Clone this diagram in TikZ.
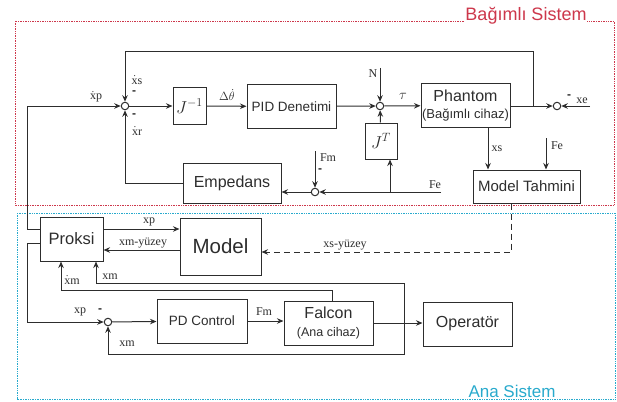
\documentclass[tikz,border=0pt]{standalone}
\usepackage{fontspec}
\setmainfont{Liberation Serif}
\setsansfont{Liberation Sans}
\usetikzlibrary{arrows.meta, calc}
\definecolor{linecol}{RGB}{45,45,45}
\definecolor{slavered}{RGB}{205,55,75}
\definecolor{mastercyan}{RGB}{40,170,205}
\newcommand{\fsz}[1]{\fontsize{#1}{#1}\selectfont}
\newcommand{\dotx}{$\dot{\hbox{x}}$}

\begin{document}
\begin{tikzpicture}[
  x=1pt, y=-1pt,
  every node/.style={inner sep=0pt, text=linecol},
  blk/.style={
    draw=linecol, line width=1pt, align=center,
    font=\sffamily\fsz{#1}
  },
  blk/.default=16,
  sumj/.style={circle, draw=linecol, line width=1pt, minimum size=7.5pt, fill=white},
  sig/.style={font=\fsz{12}},
  minus/.style={font=\sffamily\bfseries\fsz{12}},
  arr/.style={-{Stealth[length=6.5pt, width=5.5pt]}, line width=1pt, draw=linecol},
  frame/.style={line width=0.9pt, dash pattern=on 0.8pt off 0.9pt}
]
  \useasboundingbox (0,0) rectangle (617,401);

  % Sistem cerceveleri
  \draw[frame, slavered] (15,21) rectangle (614,205);
  \draw[frame, mastercyan] (17,213) rectangle (615,399);
  \node[font=\sffamily\fsz{18}, text=slavered, fill=white, anchor=base] (slavelbl) at (526,21) {Bağımlı Sistem};
  \node[font=\sffamily\fsz{17}, text=mastercyan, fill=white, anchor=base] (masterlbl) at (512,397) {Ana Sistem};

  % Bagimli sistem bloklari
  \node[sumj] (sA) at (125,106) {};
  \node[sumj] (sB) at (380,106) {};
  \node[sumj] (sC) at (557,106) {};
  \node[sumj] (sD) at (315,192) {};
  \node[blk=18, minimum width=33pt, minimum height=36pt] (Jinv) at (189.5,106) {$J^{-1}$};
  \node[blk=13.5, minimum width=89pt, minimum height=43pt] (pid) at (291.5,106.5) {PID Denetimi};
  \node[blk, minimum width=89pt, minimum height=43pt] (phantom) at (465.5,105.5) {Phantom\\[1pt]{\fsz{13}(Bağımlı cihaz)}};
  \node[blk=18, minimum width=32pt, minimum height=36pt] (JT) at (381,141) {$J^{T}$};
  \node[blk, minimum width=98pt, minimum height=40pt] (emp) at (232,183) {Empedans};
  \node[blk=15, minimum width=107pt, minimum height=33pt] (mt) at (526.5,186.5) {Model Tahmini};

  % Ana sistem bloklari
  \node[sumj] (sE) at (108,322) {};
  \node[blk=16.5, minimum width=63pt, minimum height=44pt] (proksi) at (71.5,239) {Proksi};
  \node[blk=20.5, minimum width=81pt, minimum height=57pt] (model) at (220.5,246.5) {Model};
  \node[blk=13.5, minimum width=90pt, minimum height=44pt] (pd) at (202,321) {PD Control};
  \node[blk, minimum width=89pt, minimum height=44pt] (falcon) at (328.5,323) {Falcon\\[2pt]{\fsz{12.5}(Ana cihaz)}};
  \node[blk, minimum width=89pt, minimum height=44pt] (oper) at (467.5,324) {Operatör};

  % Serbest uclar
  \coordinate (fb) at (533,106);
  \coordinate (xein) at (590,106);
  \coordinate (nin) at (380,68);
  \coordinate (fein) at (441,192);
  \coordinate (fmin) at (315,151);
  \coordinate (fe2) at (546,138);
  \coordinate (xmb) at (404,323);

  % Bagimli sistem baglantilari
  \draw[arr] (sA) -- (Jinv);
  \draw[arr] (Jinv) -- (pid);
  \draw[arr] (pid) -- (sB);
  \draw[arr] (sB) -- (phantom);
  \draw[arr] (phantom.east |- sC) -- (sC);
  \draw[arr] (fb) -- ++(0,-54) -| (sA);
  \draw[arr] (xein) -- (sC);
  \draw[arr] (nin) -- (sB);
  \draw[arr] (JT) -- (sB);
  \draw[arr] (fein) -- (sD);
  \draw[arr] ([xshift=9pt]JT.south |- fein) -- ([xshift=9pt]JT.south);
  \draw[arr] (fmin) -- (sD);
  \draw[arr] (sD) -- (emp.east |- sD);
  \draw[arr] (emp.west) -| (sA);
  \draw[arr] ([xshift=22.5pt]phantom.south) -- ([xshift=22.5pt]phantom.south |- mt.north);
  \draw[arr] (fe2) -- (fe2 |- mt.north);
  \draw[arr, dash pattern=on 6pt off 4pt] ([xshift=-15.5pt]mt.south) |- ([yshift=-5.5pt]model.east);

  % Ana sistem baglantilari
  \draw[arr] ([yshift=10pt]proksi.west) -- ++(-12,0) |- (sA);
  \draw[arr] ([yshift=-4pt]proksi.west) -- ++(-12,0) |- (sE);
  \draw[arr] ([yshift=10pt]proksi.east) -- ([yshift=10pt]proksi.east -| model.west);
  \draw[arr] ([yshift=-3.5pt]model.west) -- ([yshift=-3.5pt]model.west -| proksi.east);
  \draw[arr] ([xshift=3.5pt]falcon.north) -- ++(0,-10) -| ([xshift=-10.5pt]proksi.south);
  \draw[arr] (xmb) -- ++(0,-40) -| ([xshift=24.5pt]proksi.south);
  \draw[arr] (xmb) -- ++(0,31) -| (sE);
  \draw[arr] (sE) -- (pd);
  \draw[arr] (pd) -- (falcon.west |- pd);
  \draw[arr] (falcon.east |- xmb) -- (oper.west |- xmb);

  % Etiketler
  \node[sig] at (96,97) {\dotx p};
  \node[sig] at (137,80) {\dotx s};
  \node[minus] at (134,93) {-};
  \node[sig] at (137,131) {\dotx r};
  \node[minus] at (134,116) {-};
  \node[sig] at (227,95) {$\Delta\dot{\theta}$};
  \node[sig] at (373,74) {N};
  \node[sig, font=\fsz{14}] at (403,96) {$\tau$};
  \node[sig] at (582,101) {xe};
  \node[minus] at (569,97) {-};
  \node[sig] at (497,149) {xs};
  \node[sig] at (557,146) {Fe};
  \node[sig] at (328,158) {Fm};
  \node[minus] at (320,171) {-};
  \node[sig] at (435,185) {Fe};
  \node[sig] at (345,245) {xs-yüzey};
  \node[sig] at (149,222) {xp};
  \node[sig] at (143,243) {xm-yüzey};
  \node[sig] at (72,280) {\dotx m};
  \node[sig] at (110,277) {xm};
  \node[sig] at (80,312) {xp};
  \node[minus] at (100,311) {-};
  \node[sig] at (127,344) {xm};
  \node[sig] at (264,312) {Fm};

\end{tikzpicture}
\end{document}
